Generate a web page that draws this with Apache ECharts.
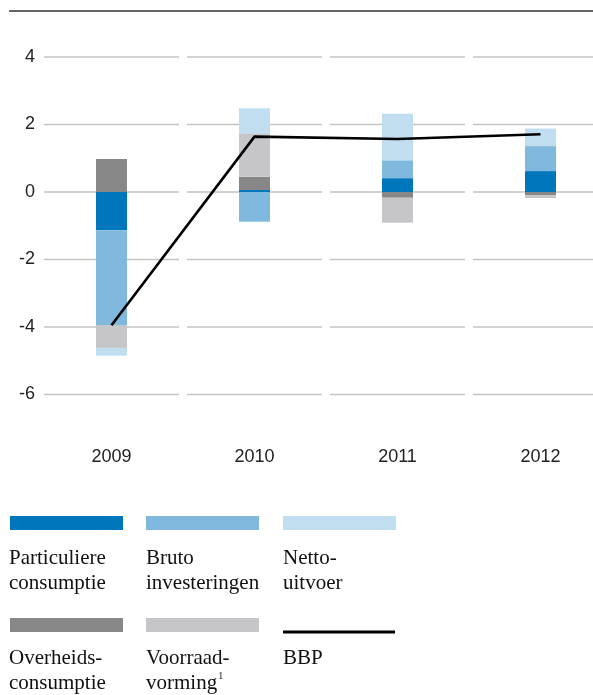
<!DOCTYPE html>
<html>
<head>
<meta charset="utf-8">
<script src="https://cdn.jsdelivr.net/npm/echarts@6/dist/echarts.min.js"></script>
<style>
  html, body { margin: 0; padding: 0; background: #fff; }
  #chart { width: 593px; height: 695px; }
</style>
</head>
<body>
<div id="chart"></div>
<script>
// Bijdragen aan de BBP-groei per jaar (procentpunten)
const years = ['2009', '2010', '2011', '2012'];
const yTicks = [-6, -4, -2, 0, 2, 4];

const particuliereConsumptie = [-1.13, 0.06, 0.41, 0.62];
const brutoInvesteringen     = [-2.81, -0.88, 0.53, 0.74];
const overheidsConsumptie    = [0.98, 0.39, -0.17, -0.09];
const voorraadVorming        = [-0.68, 1.27, -0.74, -0.09];
const nettoUitvoer           = [-0.23, 0.76, 1.38, 0.52];
const bbp                    = [-3.95, 1.64, 1.57, 1.71];

const colors = {
  particuliere: '#0077bd',
  bruto: '#80b9dd',
  netto: '#c1ddf0',
  overheid: '#878787',
  voorraad: '#c6c6c8',
  bbp: '#000000'
};

// gridline segments: one short line per year band and tick value
const gridData = [];
years.forEach((y, i) => yTicks.forEach(v => gridData.push([i, v])));

const chart = echarts.init(document.getElementById('chart'), null, { renderer: 'canvas' });

const serif = '"Liberation Serif", "Times New Roman", serif';
const legendFont = 21;

function swatch(x, y, color) {
  return { type: 'rect', shape: { x: x, y: y, width: 113, height: 14 }, style: { fill: color }, silent: true };
}
function label(x, y, text, rich) {
  return {
    type: 'text', x: x, y: y, silent: true,
    style: {
      text: text, fill: '#111', font: legendFont + 'px ' + serif,
      lineHeight: 25, verticalAlign: 'top', align: 'left', rich: rich || undefined
    }
  };
}

const option = {
  animation: false,
  backgroundColor: '#ffffff',
  grid: { left: 40, top: 57, width: 572, height: 337.5, containLabel: false, outerBoundsMode: 'none' },
  xAxis: {
    type: 'category',
    data: years,
    boundaryGap: true,
    axisLine: { show: false },
    axisTick: { show: false },
    splitLine: { show: false },
    axisLabel: { margin: 54, color: '#222', fontSize: 18, fontFamily: '"Liberation Sans", Arial, sans-serif' }
  },
  yAxis: {
    type: 'value',
    min: -6, max: 4, interval: 2,
    axisLine: { show: false },
    axisTick: { show: false },
    splitLine: { show: false },
    axisLabel: { margin: 5, color: '#222', fontSize: 18, fontFamily: '"Liberation Sans", Arial, sans-serif' }
  },
  series: [
    {
      type: 'custom',
      name: 'grid',
      silent: true,
      clip: false,
      z: 1,
      data: gridData,
      renderItem: function (params, api) {
        const p = api.coord([api.value(0), api.value(1)]);
        const w = api.size([1, 0])[0];
        return {
          type: 'line',
          shape: { x1: p[0] - w / 2 + 4, y1: p[1], x2: p[0] + w / 2 - 4, y2: p[1] },
          style: { stroke: '#c3c3c3', lineWidth: 1.6 }
        };
      }
    },
    { name: 'Particuliere consumptie', type: 'bar', stack: 'bbp', barWidth: 31, z: 2,
      itemStyle: { color: colors.particuliere }, data: particuliereConsumptie },
    { name: 'Bruto investeringen', type: 'bar', stack: 'bbp', barWidth: 31, z: 2,
      itemStyle: { color: colors.bruto }, data: brutoInvesteringen },
    { name: 'Overheidsconsumptie', type: 'bar', stack: 'bbp', barWidth: 31, z: 2,
      itemStyle: { color: colors.overheid }, data: overheidsConsumptie },
    { name: 'Voorraadvorming', type: 'bar', stack: 'bbp', barWidth: 31, z: 2,
      itemStyle: { color: colors.voorraad }, data: voorraadVorming },
    { name: 'Netto-uitvoer', type: 'bar', stack: 'bbp', barWidth: 31, z: 2,
      itemStyle: { color: colors.netto }, data: nettoUitvoer },
    { name: 'BBP', type: 'line', z: 5, symbol: 'none', smooth: false,
      lineStyle: { color: colors.bbp, width: 2.6 }, data: bbp }
  ],
  graphic: [
    // rule along the top
    { type: 'line', shape: { x1: 9, y1: 11, x2: 593, y2: 11 }, style: { stroke: '#333', lineWidth: 1.5 }, silent: true },
    // legend, row 1
    swatch(10, 516, colors.particuliere),
    swatch(146, 516, colors.bruto),
    swatch(283, 516, colors.netto),
    label(9, 546, 'Particuliere\nconsumptie'),
    label(146, 546, 'Bruto\ninvesteringen'),
    label(283, 546, 'Netto-\nuitvoer'),
    // legend, row 2
    swatch(10, 618, colors.overheid),
    swatch(146, 618, colors.voorraad),
    { type: 'line', shape: { x1: 283, y1: 632, x2: 395, y2: 632 }, style: { stroke: '#000', lineWidth: 3 }, silent: true },
    label(9, 646, 'Overheids-\nconsumptie'),
    label(146, 646, 'Voorraad-\nvorming{sup|1}', {
      sup: { fontSize: 10, fontFamily: serif, fill: '#111', verticalAlign: 'top', padding: [0, 0, 9, 1] }
    }),
    label(283, 646, 'BBP')
  ]
};

chart.setOption(option);
</script>
</body>
</html>
